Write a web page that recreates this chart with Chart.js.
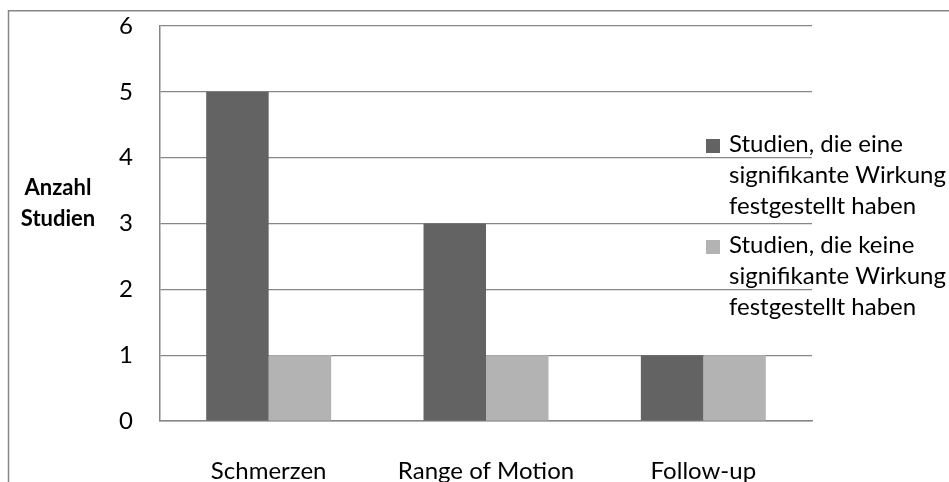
<!DOCTYPE html>
<html>
<head>
<meta charset="utf-8">
<script src="https://cdn.jsdelivr.net/npm/chart.js@4"></script>
<style>
  html, body { margin: 0; padding: 0; background: #fff; }
  #wrap { width: 949px; height: 482px; }
</style>
</head>
<body>
<div id="wrap"><canvas id="chart-context"></canvas></div>
<script>
"use strict";
const categories = ["Schmerzen", "Range of Motion", "Follow-up"];
const signifikant = [5, 3, 1];
const keineWirkung = [1, 1, 1];
const seriesNames = [
  ["Studien, die eine", "signifikante Wirkung", "festgestellt haben"],
  ["Studien, die keine", "signifikante Wirkung", "festgestellt haben"],
];
const yTitle = ["Anzahl", "Studien"];
const fontFamily = "Lato, 'Open Sans', sans-serif";

const framePlugin = {
  id: "frame",
  beforeDraw(chart) {
    const ctx = chart.ctx;
    ctx.save();
    ctx.strokeStyle = "#868686";
    ctx.lineWidth = 1.5;
    ctx.strokeRect(8.5, 10.75, 960, 490);
    ctx.restore();
  },
  afterDraw(chart) {
    const ctx = chart.ctx;
    ctx.save();
    // y axis title
    ctx.fillStyle = "#000";
    ctx.font = "bold 22px " + fontFamily;
    ctx.textAlign = "center";
    ctx.textBaseline = "alphabetic";
    ctx.fillText(yTitle[0], 58, 195);
    ctx.fillText(yTitle[1], 58, 226);
    // legend
    ctx.font = "24px " + fontFamily;
    ctx.textAlign = "left";
    chart.data.datasets.forEach((ds, i) => {
      const base = 152 + i * 101;
      ctx.fillStyle = ds.backgroundColor;
      ctx.fillRect(706, base - 13, 14, 14);
      ctx.fillStyle = "#000";
      seriesNames[i].forEach((line, j) => {
        ctx.fillText(line, 729, base + j * 31);
      });
    });
    ctx.restore();
  },
};

const chartCxt = document.querySelector("#chart-context").getContext("2d");
new Chart(chartCxt, {
  type: "bar",
  data: {
    labels: categories,
    datasets: [
      {
        label: seriesNames[0].join(" "),
        data: signifikant,
        backgroundColor: "#636363",
      },
      {
        label: seriesNames[1].join(" "),
        data: keineWirkung,
        backgroundColor: "#b3b3b3",
      },
    ],
  },
  options: {
    responsive: true,
    maintainAspectRatio: false,
    animation: false,
    layout: { padding: { top: 26, right: 137, left: 0, bottom: 0 } },
    categoryPercentage: 0.575,
    barPercentage: 1,
    plugins: {
      legend: { display: false },
      tooltip: { enabled: false },
    },
    scales: {
      x: {
        grid: { display: false },
        border: { display: true, color: "#868686", width: 1.5 },
        ticks: {
          color: "#000",
          font: { family: fontFamily, size: 24 },
          padding: 28,
          maxRotation: 0,
        },
        afterFit(scale) {
          scale.height = 61;
          scale.paddingLeft = 0;
          scale.paddingRight = 0;
        },
      },
      y: {
        min: 0,
        max: 6,
        grid: { color: "#868686", lineWidth: 1.2, drawTicks: false },
        border: { display: true, color: "#868686", width: 1.5 },
        ticks: {
          stepSize: 1,
          color: "#000",
          font: { family: fontFamily, size: 24 },
          padding: 27,
        },
        afterFit(scale) {
          scale.width = 160;
          scale.paddingTop = 0;
          scale.paddingBottom = 0;
        },
      },
    },
  },
  plugins: [framePlugin],
});
</script>
</body>
</html>
